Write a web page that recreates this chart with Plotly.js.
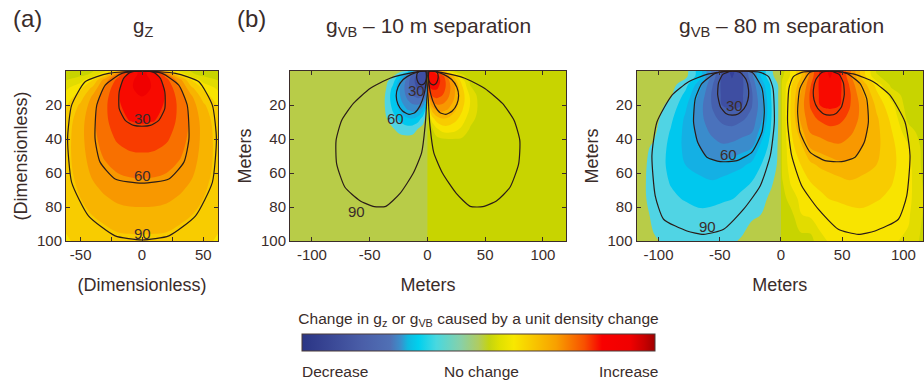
<!DOCTYPE html>
<html><head><meta charset="utf-8">
<script src="https://cdn.plot.ly/plotly-3.0.1.min.js"></script>
<style>html,body{margin:0;padding:0;background:#fff}#chart{width:924px;height:383px}</style>
</head><body><div id="chart"></div>
<script>
// ================= DATA =================
// Colour level of the field: negative = decrease (blue), ~0/1 = no change, positive = increase (red)
// Panel (a) g_Z
const aX = [-62,-50,-40,-30,-20,-10,0,10,20,30,40,50,62];
const aY = [0,2,5,10,15,20,30,40,50,60,70,80,90,100];
const aZ = [
 [1.0,1.1,1.45,2.43,4.3,9.0,9.8,9.0,4.3,2.43,1.45,1.1,1.0],
 [1.0,1.2,1.7,3.6,6.85,9.0,9.8,9.0,6.85,3.6,1.7,1.2,1.0],
 [1.4,2.0,3.4,6.0,7.75,9.33,9.8,9.33,7.75,6.0,3.4,2.0,1.4],
 [2.3,3.3,4.8,6.8,8.25,9.38,9.8,9.38,8.25,6.8,4.8,3.3,2.3],
 [2.9,4.05,5.7,7.18,8.35,9.25,9.5,9.25,8.35,7.18,5.7,4.05,2.9],
 [3.4,4.7,6.05,7.33,8.3,9.0,9.19,9.0,8.3,7.33,6.05,4.7,3.4],
 [3.95,5.15,6.28,7.28,8.08,8.48,8.56,8.48,8.08,7.28,6.28,5.15,3.95],
 [4.1,5.23,6.18,7.05,7.63,7.9,7.98,7.9,7.63,7.05,6.18,5.23,4.1],
 [4.15,5.13,6.0,6.65,7.08,7.33,7.38,7.33,7.08,6.65,6.0,5.13,4.15],
 [4.1,4.95,5.7,6.15,6.5,6.65,6.7,6.65,6.5,6.15,5.7,4.95,4.1],
 [3.98,4.65,5.25,5.68,5.95,6.05,6.1,6.05,5.95,5.68,5.25,4.65,3.98],
 [3.83,4.35,4.73,5.1,5.38,5.48,5.5,5.48,5.38,5.1,4.73,4.35,3.83],
 [3.63,4.03,4.3,4.53,4.73,4.8,4.83,4.8,4.73,4.53,4.3,4.03,3.63],
 [3.4,3.7,3.95,4.15,4.25,4.28,4.3,4.28,4.25,4.15,3.95,3.7,3.4]
];
// Panel (b) g_VB, 10 m separation
const bX = [-120,-60,-45,-37,-30,-24,-18,-13,-8,-4,-1,1,4,8,13,18,24,30,37,45,60,120];
const bY = [0,3,6,10,14,18,23,28,34,40,50,100];
const bZ = [
 [0,0,0,0,0,-0.03,-0.7,-3.0,-5.5,-6.93,-7.58, 9.58,8.93,7.5,5.0,2.7,1.1,1.0,1.0,1.0,1.0,1.0],
 [0,0,0,0,-0.26,-2.0,-4.2,-5.92,-6.92,-7.35,-7.46, 9.46,9.35,8.92,7.92,6.2,4.0,1.77,1.0,1.0,1.0,1.0],
 [0,0,0,-0.1,-1.08,-2.99,-4.85,-6.25,-6.89,-7.13,-7.03, 9.03,9.13,8.89,8.25,6.85,4.99,3.08,1.3,1.0,1.0,1.0],
 [0,0,0,-0.21,-1.75,-3.45,-4.99,-6.05,-6.64,-6.7,-6.24, 8.24,8.7,8.64,8.05,6.99,5.45,3.75,1.63,1.0,1.0,1.0],
 [0,0,-0.03,-0.43,-2.0,-3.45,-4.73,-5.55,-5.99,-5.8,-4.65, 6.65,7.8,7.99,7.55,6.73,5.45,4.0,2.3,1.1,1.0,1.0],
 [0,0,-0.07,-0.5,-1.93,-3.2,-4.23,-4.82,-4.99,-4.5,-3.0, 5.0,6.5,6.99,6.82,6.23,5.2,3.93,2.5,1.22,1.0,1.0],
 [0,0,-0.08,-0.44,-1.58,-2.62,-3.38,-3.72,-3.6,-2.78,-1.02, 3.02,4.78,5.6,5.72,5.38,4.62,3.58,2.33,1.25,1.0,1.0],
 [0,0,-0.07,-0.28,-1.1,-1.82,-2.38,-2.5,-2.08,-1.08,-0.12, 1.35,3.08,4.08,4.5,4.38,3.82,3.1,1.83,1.22,1.0,1.0],
 [0,0,-0.04,-0.14,-0.42,-0.86,-1.1,-1.0,-0.46,-0.12,0, 1.0,1.35,2.37,3.0,3.1,2.86,2.27,1.42,1.13,1.0,1.0],
 [0,0,0,-0.08,-0.13,-0.16,-0.17,-0.14,-0.08,0,0, 1.0,1.0,1.23,1.43,1.5,1.48,1.4,1.24,1.0,1.0,1.0],
 [0,0,0,0,0,0,0,0,0,0,0, 1,1,1,1,1,1,1,1,1,1,1],
 [0,0,0,0,0,0,0,0,0,0,0, 1,1,1,1,1,1,1,1,1,1,1]
];
// Panel (c) g_VB, 80 m separation
const cX = [-118,-104,-90,-78,-66,-56,-48,-40,-32,-24,-16,-8,-1,1,8,16,24,32,40,48,56,66,78,90,104,118];
const cY = [0,3,8,14,20,28,36,45,55,65,75,85,100];
const cZ = [
 [0,0,0,-0.13,-2.1,-4.8,-6.7,-7.8,-6.7,-4.8,-2.2,-0.6,-0.03, 1.1,2.6,4.2,6.8,8.7,9.8,8.7,6.8,4.1,1.4,1.0,1.0,1.0],
 [0,0,0,-0.21,-2.14,-4.93,-6.71,-7.6,-6.71,-4.9,-2.28,-0.66,-0.1, 1.29,2.66,4.28,6.9,8.71,9.6,8.71,6.93,4.14,1.63,1.0,1.0,1.0],
 [0,0,-0.08,-1.14,-3.15,-5.43,-6.73,-7.2,-6.71,-5.41,-3.05,-1.31,-0.28, 1.83,3.31,5.05,7.41,8.71,9.2,8.73,7.43,5.15,3.14,1.24,1.0,1.0],
 [0,0,-0.36,-1.77,-3.77,-5.69,-6.64,-6.9,-6.62,-5.69,-3.59,-1.47,-0.28, 1.83,3.47,5.59,7.69,8.62,8.9,8.64,7.69,5.77,3.77,2.08,1.0,1.0],
 [0,0,-0.79,-2.27,-4.17,-5.6,-6.54,-6.7,-6.53,-5.6,-3.92,-1.56,-0.28, 1.83,3.56,5.92,7.6,8.53,8.7,8.54,7.6,6.17,4.27,2.79,1.0,1.0],
 [0,-0.09,-1.28,-2.68,-4.2,-5.25,-5.76,-6.0,-5.69,-5.17,-3.71,-1.54,-0.28, 1.83,3.54,5.71,7.17,7.69,8.0,7.76,7.25,6.2,4.68,3.28,1.26,1.0],
 [0,-0.29,-1.61,-2.78,-3.96,-4.72,-5.06,-5.1,-4.83,-4.56,-3.02,-1.35,-0.28, 1.83,3.35,5.02,6.56,6.83,7.1,7.06,6.72,5.96,4.78,3.61,1.88,1.0],
 [0,-0.66,-1.78,-2.75,-3.53,-3.97,-4.31,-4.17,-3.87,-3.57,-2.16,-1.1,-0.28, 1.83,3.1,4.16,5.57,5.87,6.17,6.31,5.97,5.53,4.75,3.78,2.66,1.0],
 [0,-0.84,-1.78,-2.51,-2.92,-3.27,-3.27,-2.99,-2.71,-2.3,-1.49,-0.92,-0.28, 1.83,2.92,3.49,4.3,4.71,4.99,5.27,5.27,4.92,4.51,3.78,2.84,1.0],
 [-0.05,-0.87,-1.58,-1.92,-2.27,-2.44,-2.21,-1.97,-1.74,-1.51,-1.07,-0.62,-0.14, 1.42,2.62,3.07,3.51,3.74,3.97,4.21,4.44,4.27,3.92,3.58,2.87,1.16],
 [-0.1,-0.8,-1.31,-1.59,-1.76,-1.76,-1.65,-1.54,-1.31,-1.02,-0.72,-0.34,0, 1.0,2.03,2.72,3.02,3.31,3.54,3.65,3.76,3.76,3.59,3.31,2.8,1.31],
 [-0.08,-0.63,-0.87,-1.08,-1.3,-1.19,-1.05,-0.91,-0.77,-0.64,-0.48,-0.03,0, 1.0,1.08,2.45,2.64,2.77,2.91,3.05,3.19,3.3,3.08,2.87,2.63,1.24],
 [0,-0.44,-0.62,-0.74,-0.81,-0.72,-0.64,-0.57,-0.44,-0.01,0,0,0, 1.0,1.0,1.0,1.03,2.33,2.57,2.64,2.72,2.81,2.74,2.62,2.33,1.0]
];

// Cumulative-sensitivity contour lines (30 %, 60 %, 90 %)
const a30x = [0,-9.6,-15,-18.6,-18.6,-13.7,-6.8,0,6.8,13.7,18.6,18.6,15,9.6,0];
const a30y = [0,0.8,4.3,12.2,22.1,29,32,32.5,32,29,22.1,12.2,4.3,0.8,0];
const a60x = [0,-16.4,-30,-36.9,-38.3,-34.2,-21.9,0,21.9,34.2,38.3,36.9,30,16.4,0];
const a60y = [0,1.4,8.3,20.1,39.8,53.6,63.5,66,63.5,53.6,39.8,20.1,8.3,1.4,0];
const a90x = [0,-27.3,-46.4,-57.4,-60.7,-57.4,-43.7,-21.9,0,21.9,43.7,57.4,60.7,57.4,46.4,27.3,0];
const a90y = [0,1.4,6.3,20.1,39.8,65.5,85.2,97,99.4,97,85.2,65.5,39.8,20.1,6.3,1.4,0];

const b30Lx = [-1.5,-0.9,-1.5,-3.5,-6,-8,-9.3,-8.5,-6,-1.5];
const b30Rx = [1.5,0.9,1.5,3.5,6,8,9.3,8.5,6,1.5];
const b30y  = [0.3,3,6,7.8,8,6.8,4,1,0,0.3];
const b60Lx = [-0.5,-6,-14,-21,-25.5,-27,-25.5,-21.5,-16,-11,-6.5,-3,-1.2,-0.5];
const b60Rx = [0.5,6,14,21,25.5,27,25.5,21.5,16,11,6.5,3,1.2,0.5];
const b60y  = [0,0.3,2,5,9.5,14.5,19.5,23.5,25.5,24.5,20.5,14,7,0];
const b90Lx = [0,-15,-32.4,-49.7,-64.1,-74.2,-79.1,-78.6,-71.4,-58.4,-46,-36,-23.7,-12.2,-5,-2.1,-0.6,0];
const b90Rx = [0,15,32.4,49.7,65,75,80,79,71.5,60,48,37,25,13,5.5,2.3,0.8,0];
const b90y  = [0,1.3,4.3,10.3,19.1,29,40.8,54.6,68.4,76.3,79.8,79.6,72,60,48,32.9,17.2,0];

const c30Rx = [40,33,28.5,26.5,27,30,35,40,45,49.5,51.7,51,47.5,40];
const c30Lx = [-40,-33,-28.5,-26.5,-27,-30,-35,-40,-45,-49.5,-51.7,-51,-47.5,-40];
const c30y  = [0,1,5,11,17,22,25.3,26,25,21,14,7,2,0];
const c60Rx = [40,23.7,15.5,13.6,15.5,23.7,35.9,49.6,60.5,68.1,71.4,70,64.5,53.6,40];
const c60Lx = [-40,-23.7,-15.5,-13.6,-15.5,-23.7,-35.9,-49.6,-60.5,-68.1,-71.4,-70,-64.5,-53.6,-40];
const c60y  = [0,0.8,10.3,24,35.9,47.7,52.7,53.3,50.7,41.8,30,16.2,7.3,1.4,0];
const c90Rx = [40,17,10,6.5,5.4,8.7,16.9,30.5,46.8,63.2,76.8,95.9,102.7,105.4,101.3,89,75.4,60.5,40];
const c90Lx = [-40,-17,-10,-6.5,-5.4,-8.7,-16.9,-30.5,-46.8,-63.2,-76.8,-95.9,-102.7,-105.4,-101.3,-89,-75.4,-60.5,-40];
const c90y  = [0,0.8,3.4,10.3,30,49.7,67.5,81.3,93.1,96.1,94.1,87.2,73.4,49.7,30,14.2,6.3,2,0];

// Contour labels
const aLabX = [0,0,0],        aLabY = [28,61.5,95.5];
const bLabX = [-9.3,-27.5,-61.8], bLabY = [11.6,28,82.6];
const cLabX = [-38.2,-43,-60.2], cLabY = [20,49.3,91.4];
const labText = ['30','60','90'];

// Station positions (surface)
const aSta = [0];
const bSta = [-5,5];
const cSta = [-40,40];

// Tick labels
const aTickV = [-50,0,50], aTickT = ['-50','0','50'];
const aMinorV = [-25,25];
const mTickV = [-100,-50,0,50,100], mTickT = ['-100','-50','0','50','100'];
const yTickV = [20,40,60,80,100], yTickT = ['20','40','60','80','100'];

// ================= STYLE =================
const FONT = '"Liberation Sans", Arial, Helvetica, sans-serif';
const INK = '#3a2c2a';
const LINE = '#2a1c18';
const W = 924, H = 383;
const px = v => v / W, py = v => 1 - v / H;

const levelColors = ['#34409a','#3e4ea2','#4660ae','#4a72bc','#3a8ccc','#14b0e4','#00c8ee','#50d4e4',
  '#b8cc48','#c8d400','#e2dc00','#f8e400','#f8cc00','#f8b400','#f89800','#f87000','#f83c00','#f80a00','#f00000'];
const levelScale = levelColors.map((c,i)=>[i/(levelColors.length-1), c]);

const barScale = [
 [0.00,'#2a3585'],[0.05,'#34408f'],[0.17,'#4a5ea8'],[0.25,'#5070b5'],[0.28,'#3a90cc'],
 [0.30,'#10b8e0'],[0.33,'#00d0ee'],[0.38,'#48d8e0'],[0.45,'#88d0a8'],[0.50,'#b0cc60'],
 [0.53,'#c4d410'],[0.56,'#e0e000'],[0.60,'#f8e800'],[0.66,'#f8c400'],[0.72,'#f8a000'],
 [0.76,'#f87800'],[0.80,'#f85000'],[0.83,'#f82000'],[0.85,'#f80000'],[0.93,'#f00000'],
 [0.97,'#c80000'],[1.00,'#a00000']
];

const plotTop = 71, plotBot = 241;
const yPxPerUnit = (plotBot - plotTop) / 100;
const triSize = 14;
const triLift = -(triSize / 2) / yPxPerUnit;

function field(x, y, z, xa, ya) {
  return {type:'contour', x, y, z, xaxis:xa, yaxis:ya, colorscale:levelScale,
    autocontour:false, contours:{start:-7.5, end:9.5, size:1, coloring:'fill', showlines:false},
    line:{width:0, smoothing:1}, showscale:false, hoverinfo:'skip'};
}
function cline(x, y, xa, ya) {
  return {type:'scatter', mode:'lines', x, y, xaxis:xa, yaxis:ya,
    line:{color:LINE, width:1.2, shape:'spline', smoothing:0.55}, hoverinfo:'skip', showlegend:false};
}
function stations(sx, xa, ya) {
  return {type:'scatter', mode:'markers', x:sx, y:sx.map(()=>triLift), xaxis:xa, yaxis:ya, cliponaxis:false,
    marker:{symbol:'triangle-down-open', size:triSize, color:INK, line:{width:2, color:INK}},
    hoverinfo:'skip', showlegend:false};
}

const traces = [
  field(aX,aY,aZ,'x','y'),
  field(bX,bY,bZ,'x2','y2'),
  field(cX,cY,cZ,'x3','y3'),
  cline(a30x,a30y,'x','y'), cline(a60x,a60y,'x','y'), cline(a90x,a90y,'x','y'),
  cline(b30Lx,b30y,'x2','y2'), cline(b30Rx,b30y,'x2','y2'),
  cline(b60Lx,b60y,'x2','y2'), cline(b60Rx,b60y,'x2','y2'),
  cline(b90Lx,b90y,'x2','y2'), cline(b90Rx,b90y,'x2','y2'),
  cline(c30Lx,c30y,'x3','y3'), cline(c30Rx,c30y,'x3','y3'),
  cline(c60Lx,c60y,'x3','y3'), cline(c60Rx,c60y,'x3','y3'),
  cline(c90Lx,c90y,'x3','y3'), cline(c90Rx,c90y,'x3','y3'),
  stations(aSta,'x','y'), stations(bSta,'x2','y2'), stations(cSta,'x3','y3'),
  {type:'heatmap', x:[0,1], y:[0,1], z:[[0,1],[0,1]], xaxis:'x4', yaxis:'y4',
   colorscale:barScale, zmin:0, zmax:1, showscale:true, hoverinfo:'skip',
   colorbar:{orientation:'h', x:px(478.5), xanchor:'center', y:py(352), yanchor:'bottom',
     len:353, lenmode:'pixels', thickness:17, thicknessmode:'pixels',
     title:{text:'Change in g<sub>z</sub> or g<sub>VB</sub> caused by a unit density change', side:'top',
       font:{family:FONT, size:15.5, color:INK}},
     outlinewidth:1, outlinecolor:'#4a3a38', showticklabels:false, ticks:'', xpad:0, ypad:0, borderwidth:0}}
];

function baseAxis() {
  return {ticks:'inside', ticklen:4, tickwidth:1, tickcolor:INK, showline:true, linecolor:INK, linewidth:1,
    mirror:'ticks', showgrid:false, zeroline:false, fixedrange:true,
    tickfont:{family:FONT, size:15, color:INK}};
}
function xax(d0, d1, range, tv, tt, anchor, title, minorV) {
  const a = Object.assign(baseAxis(), {domain:[px(d0), px(d1)], range, tickmode:'array', tickvals:tv, ticktext:tt, anchor,
    title:{text:title, font:{family:FONT, size:18, color:INK}, standoff:16}});
  if (minorV) a.minor = {tickmode:'array', tickvals:minorV, ticks:'inside', ticklen:4, tickcolor:INK, showgrid:false};
  return a;
}
function yax(anchor, title) {
  return Object.assign(baseAxis(), {domain:[py(plotBot), py(plotTop)], range:[100,0], tickmode:'array',
    tickvals:yTickV, ticktext:yTickT, anchor,
    title:{text:title, font:{family:FONT, size:18, color:INK}, standoff:4}});
}

function note(text, x, y, size, extra) {
  return Object.assign({text, xref:'paper', yref:'paper', x:px(x), y:py(y), xanchor:'center', yanchor:'middle',
    showarrow:false, font:{family:FONT, size, color:INK}}, extra || {});
}
function clab(xs, ys, xa, ya) {
  return xs.map((v,i)=>({text:labText[i], x:v, y:ys[i], xref:xa, yref:ya, showarrow:false,
    xanchor:'center', yanchor:'middle', font:{family:FONT, size:15, color:INK}}));
}

const annotations = [
  note('(a)', 27.5, 18, 24),
  note('(b)', 251, 18, 24),
  note('g<sub>Z</sub>', 143, 27, 20.5),
  note('g<sub>VB</sub> – 10 m separation', 428, 27, 21),
  note('g<sub>VB</sub> – 80 m separation', 781, 27, 21),
  note('Decrease', 335, 371, 15.5),
  note('No change', 481.5, 371, 15.5),
  note('Increase', 628, 371, 15.5)
].concat(clab(aLabX,aLabY,'x','y'), clab(bLabX,bLabY,'x2','y2'), clab(cLabX,cLabY,'x3','y3'));

const layout = {
  width:W, height:H, margin:{l:0,r:0,t:0,b:0}, paper_bgcolor:'#ffffff', plot_bgcolor:'rgba(0,0,0,0)',
  showlegend:false, font:{family:FONT, color:INK},
  xaxis: xax(66,218,[-62,62],aTickV,aTickT,'y','(Dimensionless)',aMinorV),
  yaxis: yax('x','(Dimensionless)'),
  xaxis2: xax(290,566,[-119,120],mTickV,mTickT,'y2','Meters'),
  yaxis2: yax('x2','Meters'),
  xaxis3: xax(636.5,923,[-118,116],mTickV,mTickT,'y3','Meters'),
  yaxis3: yax('x3','Meters'),
  xaxis4: {domain:[0,0.001], range:[10,11], visible:false, anchor:'y4'},
  yaxis4: {domain:[0,0.001], range:[10,11], visible:false, anchor:'x4'},
  annotations
};

Plotly.newPlot('chart', traces, layout, {displayModeBar:false, staticPlot:true});
</script></body></html>
